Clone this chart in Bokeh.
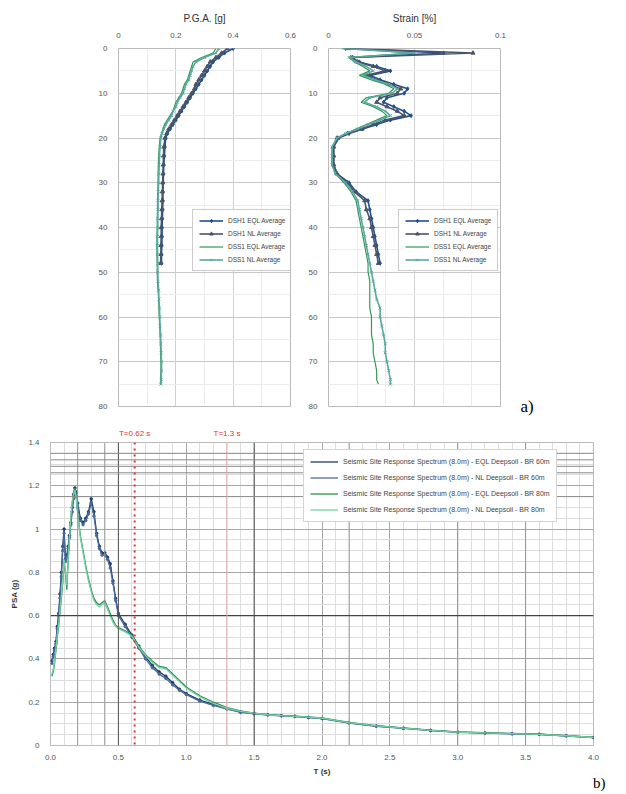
from bokeh.plotting import figure
from bokeh.models import (Range1d, Span, Legend, LegendItem, LinearAxis,
                          CustomJSTickFormatter, FixedTicker)
from bokeh.layouts import column, row
from bokeh.embed import file_html
from bokeh.resources import INLINE

# ---------------- data: panel a) ----------------
SERIES_A = ["DSH1 EQL Average", "DSH1 NL Average", "DSS1 EQL Average", "DSS1 NL Average"]

depth_1 = [0, 1, 2, 3, 4, 5, 6, 7, 8, 9, 10, 11, 12, 13, 14, 15, 16, 17, 18, 19, 20,
           22, 24, 26, 28, 30, 32, 34, 36, 38, 40, 42, 44, 46, 48]
depth_2 = [0, 1, 2, 3, 4, 5, 6, 7, 8, 9, 10, 11, 12, 13, 14, 15, 16, 17, 18, 19, 20,
           22, 24, 26, 28, 30, 32, 34, 36, 38, 40, 42, 44, 46, 48,
           50, 52, 54, 56, 58, 60, 62, 64, 66, 68, 70, 72, 74, 75]

pga_s1 = [0.40, 0.37, 0.35, 0.33, 0.32, 0.31, 0.30, 0.29, 0.28, 0.27, 0.26, 0.25, 0.24,
          0.23, 0.22, 0.21, 0.20, 0.19, 0.18, 0.17, 0.165, 0.162, 0.160, 0.158, 0.157,
          0.156, 0.155, 0.155, 0.154, 0.153, 0.152, 0.152, 0.151, 0.150, 0.150]
pga_s2 = [0.38, 0.36, 0.34, 0.32, 0.31, 0.30, 0.29, 0.28, 0.27, 0.265, 0.255, 0.245,
          0.235, 0.225, 0.215, 0.205, 0.195, 0.185, 0.175, 0.168, 0.162, 0.158, 0.157,
          0.156, 0.155, 0.154, 0.153, 0.152, 0.151, 0.150, 0.149, 0.149, 0.148, 0.148, 0.147]
pga_s3 = [0.34, 0.33, 0.29, 0.26, 0.255, 0.25, 0.245, 0.24, 0.23, 0.225, 0.22, 0.21,
          0.20, 0.195, 0.19, 0.18, 0.17, 0.16, 0.155, 0.15, 0.145, 0.142, 0.140, 0.139,
          0.138, 0.138, 0.137, 0.136, 0.136, 0.135, 0.135, 0.134, 0.134, 0.134, 0.135,
          0.135, 0.136, 0.138, 0.140, 0.141, 0.142, 0.144, 0.145, 0.146, 0.147, 0.148,
          0.148, 0.147, 0.146]
pga_s4 = [0.35, 0.34, 0.30, 0.27, 0.26, 0.255, 0.25, 0.245, 0.235, 0.23, 0.225, 0.215,
          0.205, 0.20, 0.19, 0.185, 0.175, 0.165, 0.158, 0.152, 0.148, 0.145, 0.143,
          0.142, 0.141, 0.140, 0.139, 0.138, 0.138, 0.137, 0.137, 0.136, 0.136, 0.136,
          0.137, 0.137, 0.138, 0.140, 0.141, 0.143, 0.144, 0.145, 0.147, 0.148, 0.149,
          0.150, 0.150, 0.149, 0.148]

strain_s1 = [0.010, 0.067, 0.013, 0.018, 0.028, 0.036, 0.024, 0.030, 0.038, 0.046, 0.044,
             0.034, 0.032, 0.038, 0.044, 0.048, 0.036, 0.028, 0.020, 0.012, 0.006, 0.003,
             0.003, 0.003, 0.005, 0.012, 0.016, 0.023, 0.024, 0.025, 0.026, 0.027, 0.028,
             0.029, 0.030]
strain_s2 = [0.012, 0.084, 0.014, 0.017, 0.026, 0.033, 0.022, 0.028, 0.035, 0.042, 0.040,
             0.030, 0.028, 0.034, 0.040, 0.044, 0.033, 0.026, 0.019, 0.011, 0.005, 0.003,
             0.003, 0.003, 0.005, 0.011, 0.015, 0.021, 0.022, 0.024, 0.025, 0.026, 0.027,
             0.028, 0.029]
strain_s3 = [0.008, 0.049, 0.012, 0.015, 0.020, 0.024, 0.018, 0.025, 0.033, 0.038, 0.035,
             0.022, 0.019, 0.026, 0.031, 0.034, 0.028, 0.022, 0.016, 0.010, 0.005, 0.002,
             0.002, 0.002, 0.004, 0.009, 0.013, 0.016, 0.017, 0.018, 0.019, 0.020, 0.021,
             0.022, 0.023, 0.023, 0.024, 0.024, 0.024, 0.024, 0.025, 0.025, 0.025, 0.026,
             0.026, 0.027, 0.028, 0.028, 0.029]
strain_s4 = [0.009, 0.050, 0.012, 0.016, 0.022, 0.026, 0.020, 0.027, 0.035, 0.040, 0.037,
             0.024, 0.021, 0.028, 0.033, 0.036, 0.030, 0.023, 0.017, 0.010, 0.005, 0.002,
             0.002, 0.002, 0.004, 0.010, 0.014, 0.017, 0.018, 0.019, 0.020, 0.021, 0.022,
             0.023, 0.024, 0.025, 0.026, 0.027, 0.028, 0.030, 0.030, 0.031, 0.032, 0.033,
             0.033, 0.034, 0.035, 0.036, 0.036]

PGA_TICKS = [0, 0.2, 0.4, 0.6]
STRAIN_TICKS = [0, 0.05, 0.1]
DEPTH_TICKS = [0, 10, 20, 30, 40, 50, 60, 70, 80]

# ---------------- data: panel b) ----------------
SERIES_B = ["Seismic Site Response Spectrum (8.0m) - EQL Deepsoil - BR 60m",
            "Seismic Site Response Spectrum (8.0m) - NL Deepsoil - BR 60m",
            "Seismic Site Response Spectrum (8.0m) - EQL Deepsoil - BR 80m",
            "Seismic Site Response Spectrum (8.0m) - NL Deepsoil - BR 80m"]

period = [0.01, 0.02, 0.03, 0.04, 0.05, 0.06, 0.07, 0.08, 0.09, 0.10, 0.11, 0.12, 0.13,
          0.14, 0.15, 0.16, 0.17, 0.18, 0.19, 0.20, 0.22, 0.24, 0.26, 0.28, 0.30, 0.32,
          0.34, 0.36, 0.38, 0.40, 0.42, 0.44, 0.46, 0.48, 0.50, 0.55, 0.60, 0.65, 0.70,
          0.75, 0.80, 0.85, 0.90, 0.95, 1.0, 1.1, 1.2, 1.3, 1.4, 1.5, 1.6, 1.7, 1.8, 1.9,
          2.0, 2.2, 2.4, 2.6, 2.8, 3.0, 3.2, 3.4, 3.6, 3.8, 4.0]
psa_s1 = [0.39, 0.42, 0.45, 0.48, 0.55, 0.61, 0.70, 0.80, 0.92, 1.00, 0.86, 0.88, 0.92,
          0.97, 1.03, 1.10, 1.16, 1.19, 1.17, 1.12, 1.05, 1.03, 1.05, 1.08, 1.14, 1.08,
          0.98, 0.92, 0.89, 0.89, 0.87, 0.84, 0.76, 0.68, 0.61, 0.56, 0.51, 0.46, 0.41,
          0.37, 0.34, 0.32, 0.29, 0.26, 0.24, 0.21, 0.19, 0.17, 0.155, 0.148, 0.142,
          0.138, 0.135, 0.130, 0.125, 0.105, 0.090, 0.080, 0.070, 0.062, 0.058, 0.055,
          0.052, 0.045, 0.037]
psa_s2 = [0.38, 0.41, 0.44, 0.47, 0.54, 0.60, 0.68, 0.78, 0.90, 0.98, 0.85, 0.87, 0.91,
          0.96, 1.02, 1.08, 1.14, 1.17, 1.15, 1.10, 1.04, 1.02, 1.04, 1.07, 1.12, 1.06,
          0.97, 0.91, 0.88, 0.88, 0.86, 0.82, 0.75, 0.67, 0.60, 0.55, 0.50, 0.45, 0.40,
          0.36, 0.33, 0.31, 0.28, 0.255, 0.235, 0.205, 0.185, 0.168, 0.153, 0.146, 0.141,
          0.137, 0.134, 0.129, 0.124, 0.104, 0.089, 0.079, 0.069, 0.061, 0.057, 0.054,
          0.051, 0.044, 0.036]
psa_s3 = [0.32, 0.34, 0.38, 0.44, 0.50, 0.55, 0.62, 0.68, 0.75, 0.85, 0.80, 0.72, 0.85,
          0.95, 1.05, 1.12, 1.17, 1.19, 1.15, 1.08, 0.97, 0.90, 0.83, 0.77, 0.72, 0.68,
          0.66, 0.65, 0.66, 0.67, 0.64, 0.61, 0.58, 0.555, 0.545, 0.53, 0.51, 0.46, 0.42,
          0.39, 0.365, 0.36, 0.33, 0.30, 0.27, 0.23, 0.20, 0.175, 0.16, 0.15, 0.143,
          0.139, 0.136, 0.132, 0.127, 0.107, 0.092, 0.081, 0.071, 0.063, 0.059, 0.056,
          0.052, 0.046, 0.038]
psa_s4 = [0.33, 0.35, 0.39, 0.45, 0.51, 0.56, 0.63, 0.69, 0.76, 0.86, 0.81, 0.74, 0.86,
          0.96, 1.06, 1.13, 1.16, 1.18, 1.14, 1.07, 0.96, 0.89, 0.82, 0.76, 0.71, 0.67,
          0.65, 0.64, 0.65, 0.66, 0.63, 0.60, 0.57, 0.55, 0.54, 0.525, 0.505, 0.455,
          0.415, 0.385, 0.36, 0.355, 0.325, 0.295, 0.265, 0.225, 0.195, 0.172, 0.158,
          0.149, 0.142, 0.138, 0.135, 0.131, 0.126, 0.106, 0.091, 0.080, 0.070, 0.062,
          0.058, 0.055, 0.051, 0.045, 0.037]

PERIOD_MARKS = [0.62, 1.3]
PERIOD_MARK_LABELS = ["T=0.62 s", "T=1.3 s"]
T_TICKS = [0.0, 0.5, 1.0, 1.5, 2.0, 2.5, 3.0, 3.5, 4.0]
PSA_TICKS = [0, 0.2, 0.4, 0.6, 0.8, 1.0, 1.2, 1.4]

# ---------------- styling ----------------
FONT = "Liberation Sans"
SERIF = "Liberation Serif"
COL_A = ["#24508f", "#4a5468", "#2f9a55", "#5aa8a0"]
COL_B = ["#1e3a6e", "#4c6a98", "#2e8f50", "#74d0a4"]
TICK_COL = "#555555"
RED = "#e53030"

fmt_num = CustomJSTickFormatter(code="return (Math.round(tick*1000)/1000).toString();")
fmt_1 = CustomJSTickFormatter(code="return tick.toFixed(1);")


def style_axes(p):
    for ax in p.axis:
        ax.major_label_text_font = FONT
        ax.major_label_text_font_size = "8px"
        ax.major_label_text_color = TICK_COL
        ax.axis_line_color = None
        ax.major_tick_line_color = None
        ax.minor_tick_line_color = None
        ax.axis_label_text_font = FONT
        ax.axis_label_text_color = "#333333"
    p.outline_line_color = "#bbbbbb"
    p.background_fill_color = "white"


def text_axis(tick, text, standoff, font, size, color, **kw):
    """An axis carrying only text labels (panel tags / period marks)."""
    ax = LinearAxis(ticker=FixedTicker(ticks=tick, minor_ticks=[]),
                    formatter=CustomJSTickFormatter(args=dict(labels=text),
                                                    code="return labels[index];"),
                    major_label_standoff=standoff, **kw)
    ax.axis_line_color = None
    ax.major_tick_line_color = None
    ax.minor_tick_line_color = None
    ax.major_tick_out = 0
    ax.major_label_text_font = font
    ax.major_label_text_font_size = size
    ax.major_label_text_color = color
    return ax


def top_panel(x_end, x_ticks, x_minor, title, left, right):
    p = figure(frame_width=172, frame_height=358, min_border_left=left,
               min_border_right=right, min_border_top=48, min_border_bottom=14,
               x_range=Range1d(0, x_end), y_range=Range1d(80, 0),
               x_axis_location="above", output_backend="svg", toolbar_location=None)
    p.xaxis.ticker = FixedTicker(ticks=x_ticks, minor_ticks=x_minor)
    p.yaxis.ticker = FixedTicker(ticks=DEPTH_TICKS,
                                 minor_ticks=[d + 5 for d in DEPTH_TICKS[:-1]])
    p.xaxis.formatter = fmt_num
    p.xaxis.axis_label = title
    p.xaxis.axis_label_text_font_size = "10px"
    p.xaxis.axis_label_text_font_style = "normal"
    p.xaxis.axis_label_standoff = 6
    p.xgrid.grid_line_color = "#cfcfcf"
    p.ygrid.grid_line_color = "#c8c8c8"
    p.xgrid.minor_grid_line_color = "#ececec"
    p.ygrid.minor_grid_line_color = "#ececec"
    style_axes(p)
    return p


def add_depth_series(p, xs_list, legend_loc):
    depths = [depth_1, depth_1, depth_2, depth_2]
    markers = ["diamond", "triangle", None, "x"]
    items = []
    for i, xs in enumerate(xs_list):
        rs = [p.line(xs, depths[i], line_color=COL_A[i], line_width=1.6 if i != 2 else 1.2)]
        if markers[i]:
            rs.append(p.scatter(xs, depths[i], marker=markers[i], size=4,
                                line_color=COL_A[i], fill_color=COL_A[i]))
        items.append(LegendItem(label=SERIES_A[i], renderers=rs))
    leg = Legend(items=items, location=legend_loc)
    leg.label_text_font = FONT
    leg.label_text_font_size = "6.5px"
    leg.label_text_color = "#444444"
    leg.label_height = 9
    leg.glyph_height = 9
    leg.glyph_width = 24
    leg.spacing = 4
    leg.padding = 6
    leg.margin = 0
    leg.border_line_color = "#999999"
    leg.background_fill_alpha = 1.0
    p.add_layout(leg)


f1 = top_panel(0.6, PGA_TICKS, [0.1, 0.3, 0.5], "P.G.A. [g]", 118, 10)
add_depth_series(f1, [pga_s1, pga_s2, pga_s3, pga_s4], (74, 135))

f2 = top_panel(0.1, STRAIN_TICKS, [0.0167, 0.0333, 0.0667, 0.0833], "Strain [%]", 28, 42)
add_depth_series(f2, [strain_s1, strain_s2, strain_s3, strain_s4], (70, 135))
f2.add_layout(text_axis([80], ["a)"], 20, SERIF, "17px", "black"), "right")

# ---------------- panel b) ----------------
f3 = figure(frame_width=543, frame_height=303, min_border_left=50, min_border_right=33,
            min_border_top=22, min_border_bottom=46,
            x_range=Range1d(0, 4.0), y_range=Range1d(0, 1.4),
            output_backend="svg", toolbar_location=None)
f3.xaxis.ticker = FixedTicker(ticks=T_TICKS,
                              minor_ticks=[i / 10 for i in range(1, 40)])
f3.yaxis.ticker = FixedTicker(ticks=PSA_TICKS,
                              minor_ticks=[i / 20 for i in range(1, 28)])
f3.xaxis.formatter = fmt_1
f3.yaxis.formatter = fmt_num
f3.xaxis.axis_label = "T (s)"
f3.yaxis.axis_label = "PSA (g)"
for ax in (f3.xaxis, f3.yaxis):
    ax.axis_label_text_font_size = "8px"
    ax.axis_label_text_font_style = "bold"
f3.yaxis.axis_label_standoff = 6
f3.xaxis.major_label_standoff = 3
f3.xaxis.axis_label_standoff = 4
f3.xgrid.grid_line_color = "#a8a8a8"
f3.ygrid.grid_line_color = "#a8a8a8"
f3.xgrid.minor_grid_line_color = "#dddddd"
f3.ygrid.minor_grid_line_color = "#dddddd"
style_axes(f3)

for xv in (0.5, 1.5):
    f3.add_layout(Span(location=xv, dimension="height", line_color="#555555", line_width=1))
for xv in (0.2, 0.4, 2.2, 3.0, 3.5):
    f3.add_layout(Span(location=xv, dimension="height", line_color="#999999", line_width=1))
for yv in (0.6,):
    f3.add_layout(Span(location=yv, dimension="width", line_color="#444444", line_width=1.2))
for yv in (1.15, 1.26, 1.29, 1.32, 1.35):
    f3.add_layout(Span(location=yv, dimension="width", line_color="#8a8a8a", line_width=1))

f3.add_layout(Span(location=PERIOD_MARKS[0], dimension="height", line_color=RED,
                   line_width=2, line_dash="2 4"))
f3.add_layout(Span(location=PERIOD_MARKS[1], dimension="height", line_color="#f0a8a8",
                   line_width=1))

items_b = []
for i, ys in enumerate([psa_s1, psa_s2, psa_s3, psa_s4]):
    rs = [f3.line(period, ys, line_color=COL_B[i], line_width=1.3)]
    if i < 2:
        rs.append(f3.scatter(period, ys, marker="circle", size=2.5,
                             line_color=COL_B[i], fill_color=COL_B[i]))
    items_b.append(LegendItem(label=SERIES_B[i], renderers=[rs[0]]))
legb = Legend(items=items_b, location=(253, 223))
legb.label_text_font = FONT
legb.label_text_font_size = "7px"
legb.label_text_color = "#444444"
legb.label_height = 11
legb.glyph_height = 11
legb.glyph_width = 28
legb.spacing = 5
legb.padding = 6
legb.margin = 0
legb.border_line_color = "#aaaaaa"
legb.background_fill_alpha = 1.0
f3.add_layout(legb)

# period-mark labels above the frame and the panel tag "b)" under the T axis
f3.add_layout(text_axis(PERIOD_MARKS, PERIOD_MARK_LABELS, 5, FONT, "8px", RED), "above")
f3.add_layout(text_axis([4.0], ["\u00a0\u00a0\u00a0b)"], -4, SERIF, "15px", "black",
                        major_label_text_align="left"), "below")

layout = column(row(f1, f2), f3)
open("out.html", "w").write(file_html(layout, INLINE))
